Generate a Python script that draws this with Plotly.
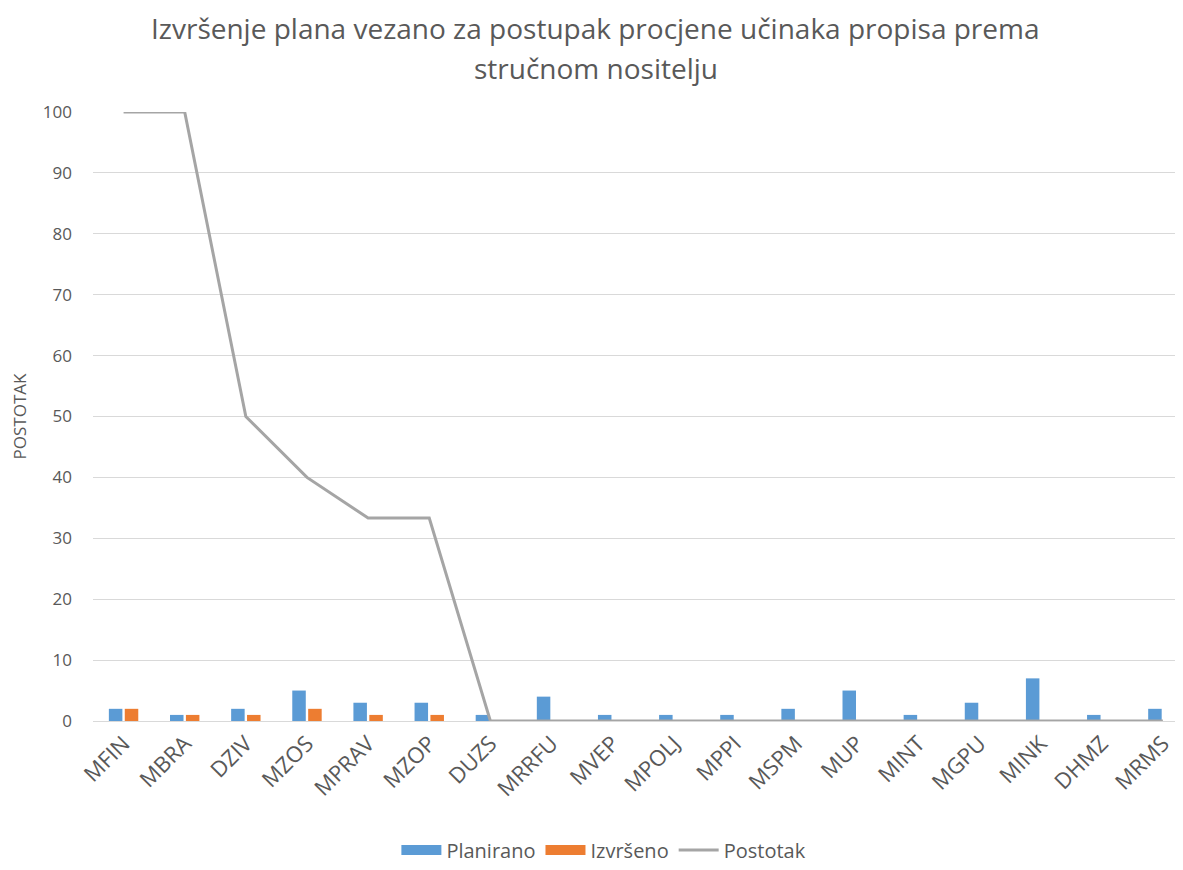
import plotly.graph_objects as go

categories = ["MFIN", "MBRA", "DZIV", "MZOS", "MPRAV", "MZOP", "DUZS", "MRRFU", "MVEP",
              "MPOLJ", "MPPI", "MSPM", "MUP", "MINT", "MGPU", "MINK", "DHMZ", "MRMS"]
planirano = [2, 1, 2, 5, 3, 3, 1, 4, 1, 1, 1, 2, 5, 1, 3, 7, 1, 2]
izvrseno = [2, 1, 1, 2, 1, 1, 0, 0, 0, 0, 0, 0, 0, 0, 0, 0, 0, 0]
postotak = [100, 100, 50, 40, 33.33, 33.33, 0, 0, 0, 0, 0, 0, 0, 0, 0, 0, 0, 0]
y_ticks = [0, 10, 20, 30, 40, 50, 60, 70, 80, 90, 100]
title_lines = ["Izvršenje plana vezano za postupak procjene učinaka propisa prema",
               "stručnom nositelju"]

font = "Open Sans"
grey = "#595959"
c_plan, c_izv, c_pos = "#5B9BD5", "#ED7D31", "#A5A5A5"

fig = go.Figure()
fig.add_trace(go.Bar(x=categories, y=planirano, name="Planirano", showlegend=False,
                     legendgroup="p", marker=dict(color=c_plan, line=dict(width=0))))
fig.add_trace(go.Bar(x=categories, y=izvrseno, name="Izvršeno", showlegend=False,
                     legendgroup="i", marker=dict(color=c_izv, line=dict(width=0))))
fig.add_trace(go.Scatter(x=categories, y=postotak, name="Postotak", mode="lines",
                         showlegend=False, legendgroup="s",
                         line=dict(color=c_pos, width=3)))
# legend entries (wide rectangle swatches like the original)
for nm, col, w, g in [("Planirano", c_plan, 14, "p"), ("Izvršeno", c_izv, 14, "i"),
                      ("Postotak", c_pos, 3, "s")]:
    fig.add_trace(go.Scatter(x=[None], y=[None], name=nm, mode="lines", legendgroup=g,
                             line=dict(color=col, width=w), hoverinfo="skip"))

for txt, yy in zip(title_lines, [1.138, 1.072]):
    fig.add_annotation(text=txt, xref="paper", yref="paper", x=0.4623, y=yy,
                       xanchor="center", yanchor="middle", showarrow=False,
                       font=dict(family=font, size=28, color=grey))

fig.update_layout(
    width=1175, height=862,
    paper_bgcolor="white", plot_bgcolor="white",
    margin=dict(l=85, r=3, t=104, b=149, autoexpand=False),
    barmode="group", bargap=0.48, bargroupgap=0.15,
    font=dict(family=font, color=grey),
    legend=dict(orientation="h", x=0.47, xanchor="center", y=-0.212, yanchor="middle",
                font=dict(size=20, color=grey), traceorder="normal", itemwidth=40),
    showlegend=True,
)
fig.update_xaxes(range=[-0.5, 17.28], tickangle=-45, tickfont=dict(size=22, color=grey),
                 showgrid=False, showline=True, linecolor="#D9D9D9", linewidth=1,
                 ticks="", fixedrange=True, automargin=False)
fig.update_yaxes(range=[0, 100], tickvals=y_ticks, tickfont=dict(size=17, color=grey),
                 showgrid=True, gridcolor="#D9D9D9", gridwidth=1, zeroline=False,
                 ticklabelstandoff=20, automargin=False,
                 title=dict(text="POSTOTAK", font=dict(size=17, color=grey), standoff=14))

fig.write_html("out.html")
